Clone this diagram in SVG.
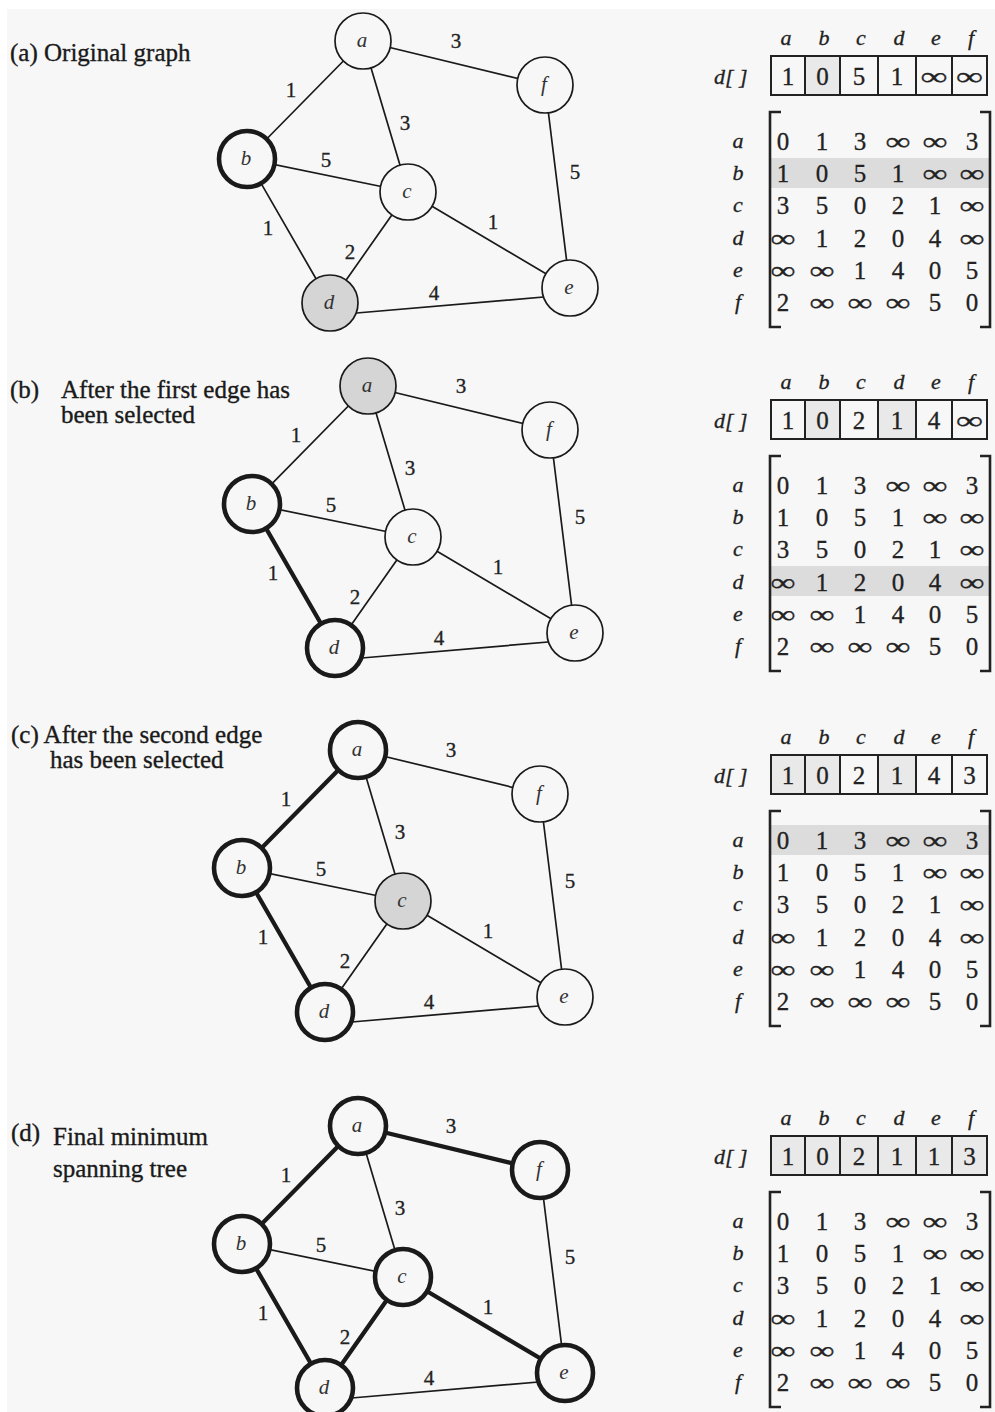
<svg xmlns="http://www.w3.org/2000/svg" width="995" height="1412" viewBox="0 0 995 1412">
<style>
.bg{fill:#f7f7f7}
.edges line{stroke:#1a1a1a;stroke-width:1.7;stroke-linecap:round}
.edges line.t{stroke-width:4.3}
.el{font-family:"Liberation Serif","Times New Roman",serif;font-size:21px;fill:#222;stroke:#222;stroke-width:0.3;text-anchor:middle}
.node circle{fill:#f7f7f7;stroke:#1a1a1a;stroke-width:1.7}
.node.t circle{stroke-width:4.6}
.node.g circle{fill:#d5d5d5}
.node text{font-family:"Liberation Serif","Times New Roman",serif;font-style:italic;font-size:21px;fill:#333;text-anchor:middle}
.lbl{font-family:"Liberation Serif","Times New Roman",serif;font-size:25px;fill:#1a1a1a;stroke:#1a1a1a;stroke-width:0.35}
.hd{font-family:"Liberation Serif","Times New Roman",serif;font-style:italic;font-size:22px;fill:#222;stroke:#222;stroke-width:0.3;text-anchor:middle}
.dl{font-family:"Liberation Serif","Times New Roman",serif;font-style:italic;font-size:22px;fill:#222;stroke:#222;stroke-width:0.3}
.mv{font-family:"Liberation Serif","Times New Roman",serif;font-size:25px;fill:#222;stroke:#222;stroke-width:0.3;text-anchor:middle}
.box{fill:none;stroke:#222;stroke-width:2}
.br{fill:none;stroke:#222;stroke-width:2.6}
.band{fill:#dcdcdc}
.sh{fill:#e9e9e9}
</style>
<rect class="bg" x="0" y="0" width="995" height="1412"/>
<rect x="0" y="0" width="995" height="9" fill="#ffffff"/>
<rect x="0" y="0" width="7" height="1412" fill="#ffffff"/>

<!-- Panel labels -->
<text class="lbl" x="10" y="61">(a) Original graph</text>
<text class="lbl" x="10" y="398">(b)</text>
<text class="lbl" x="61" y="398">After the first edge has</text>
<text class="lbl" x="61" y="423">been selected</text>
<text class="lbl" x="11" y="743">(c) After the second edge</text>
<text class="lbl" x="50" y="768">has been selected</text>
<text class="lbl" x="11" y="1141">(d)</text>
<text class="lbl" x="53" y="1145">Final minimum</text>
<text class="lbl" x="53" y="1177">spanning tree</text>

<!-- ===== Panel (a) graph ===== -->
<g id="graph-a">
<g id="a-connectors" class="edges">
<line x1="363" y1="41" x2="247" y2="159"/>
<line x1="363" y1="41" x2="545" y2="85"/>
<line x1="363" y1="41" x2="408" y2="192"/>
<line x1="247" y1="159" x2="408" y2="192"/>
<line x1="247" y1="159" x2="330" y2="303"/>
<line x1="408" y1="192" x2="330" y2="303"/>
<line x1="408" y1="192" x2="570" y2="288"/>
<line x1="345" y1="314" x2="555" y2="296"/>
<line x1="545" y1="85" x2="570" y2="288"/>
<text class="el" x="456" y="48">3</text>
<text class="el" x="291" y="97">1</text>
<text class="el" x="405" y="130">3</text>
<text class="el" x="326" y="167">5</text>
<text class="el" x="575" y="179">5</text>
<text class="el" x="268" y="235">1</text>
<text class="el" x="493" y="229">1</text>
<text class="el" x="350" y="259">2</text>
<text class="el" x="434" y="300">4</text>
</g>
<g id="a-node-a" class="node"><circle cx="363" cy="41" r="28"/><text x="362" y="47">a</text></g>
<g id="a-node-b" class="node t"><circle cx="247" cy="159" r="28"/><text x="246" y="165">b</text></g>
<g id="a-node-c" class="node"><circle cx="408" cy="192" r="28"/><text x="407" y="198">c</text></g>
<g id="a-node-d" class="node g"><circle cx="330" cy="303" r="28"/><text x="329" y="309">d</text></g>
<g id="a-node-e" class="node"><circle cx="570" cy="288" r="28"/><text x="569" y="294">e</text></g>
<g id="a-node-f" class="node"><circle cx="545" cy="85" r="28"/><text x="544" y="91">f</text></g>
</g>

<!-- ===== Panel (b) graph ===== -->
<g id="graph-b" transform="translate(5,345)">
<g id="b-connectors" class="edges">
<line x1="363" y1="41" x2="247" y2="159"/>
<line x1="363" y1="41" x2="545" y2="85"/>
<line x1="363" y1="41" x2="408" y2="192"/>
<line x1="247" y1="159" x2="408" y2="192"/>
<line class="t" x1="247" y1="159" x2="330" y2="303"/>
<line x1="408" y1="192" x2="330" y2="303"/>
<line x1="408" y1="192" x2="570" y2="288"/>
<line x1="345" y1="314" x2="555" y2="296"/>
<line x1="545" y1="85" x2="570" y2="288"/>
<text class="el" x="456" y="48">3</text>
<text class="el" x="291" y="97">1</text>
<text class="el" x="405" y="130">3</text>
<text class="el" x="326" y="167">5</text>
<text class="el" x="575" y="179">5</text>
<text class="el" x="268" y="235">1</text>
<text class="el" x="493" y="229">1</text>
<text class="el" x="350" y="259">2</text>
<text class="el" x="434" y="300">4</text>
</g>
<g id="b-node-a" class="node g"><circle cx="363" cy="41" r="28"/><text x="362" y="47">a</text></g>
<g id="b-node-b" class="node t"><circle cx="247" cy="159" r="28"/><text x="246" y="165">b</text></g>
<g id="b-node-c" class="node"><circle cx="408" cy="192" r="28"/><text x="407" y="198">c</text></g>
<g id="b-node-d" class="node t"><circle cx="330" cy="303" r="28"/><text x="329" y="309">d</text></g>
<g id="b-node-e" class="node"><circle cx="570" cy="288" r="28"/><text x="569" y="294">e</text></g>
<g id="b-node-f" class="node"><circle cx="545" cy="85" r="28"/><text x="544" y="91">f</text></g>
</g>

<!-- ===== Panel (c) graph ===== -->
<g id="graph-c" transform="translate(-5,709)">
<g id="c-connectors" class="edges">
<line class="t" x1="363" y1="41" x2="247" y2="159"/>
<line x1="363" y1="41" x2="545" y2="85"/>
<line x1="363" y1="41" x2="408" y2="192"/>
<line x1="247" y1="159" x2="408" y2="192"/>
<line class="t" x1="247" y1="159" x2="330" y2="303"/>
<line x1="408" y1="192" x2="330" y2="303"/>
<line x1="408" y1="192" x2="570" y2="288"/>
<line x1="345" y1="314" x2="555" y2="296"/>
<line x1="545" y1="85" x2="570" y2="288"/>
<text class="el" x="456" y="48">3</text>
<text class="el" x="291" y="97">1</text>
<text class="el" x="405" y="130">3</text>
<text class="el" x="326" y="167">5</text>
<text class="el" x="575" y="179">5</text>
<text class="el" x="268" y="235">1</text>
<text class="el" x="493" y="229">1</text>
<text class="el" x="350" y="259">2</text>
<text class="el" x="434" y="300">4</text>
</g>
<g id="c-node-a" class="node t"><circle cx="363" cy="41" r="28"/><text x="362" y="47">a</text></g>
<g id="c-node-b" class="node t"><circle cx="247" cy="159" r="28"/><text x="246" y="165">b</text></g>
<g id="c-node-c" class="node g"><circle cx="408" cy="192" r="28"/><text x="407" y="198">c</text></g>
<g id="c-node-d" class="node t"><circle cx="330" cy="303" r="28"/><text x="329" y="309">d</text></g>
<g id="c-node-e" class="node"><circle cx="570" cy="288" r="28"/><text x="569" y="294">e</text></g>
<g id="c-node-f" class="node"><circle cx="545" cy="85" r="28"/><text x="544" y="91">f</text></g>
</g>

<!-- ===== Panel (d) graph ===== -->
<g id="graph-d" transform="translate(-5,1085)">
<g id="d-connectors" class="edges">
<line class="t" x1="363" y1="41" x2="247" y2="159"/>
<line class="t" x1="363" y1="41" x2="545" y2="85"/>
<line x1="363" y1="41" x2="408" y2="192"/>
<line x1="247" y1="159" x2="408" y2="192"/>
<line class="t" x1="247" y1="159" x2="330" y2="303"/>
<line class="t" x1="408" y1="192" x2="330" y2="303"/>
<line class="t" x1="408" y1="192" x2="570" y2="288"/>
<line x1="345" y1="314" x2="555" y2="296"/>
<line x1="545" y1="85" x2="570" y2="288"/>
<text class="el" x="456" y="48">3</text>
<text class="el" x="291" y="97">1</text>
<text class="el" x="405" y="130">3</text>
<text class="el" x="326" y="167">5</text>
<text class="el" x="575" y="179">5</text>
<text class="el" x="268" y="235">1</text>
<text class="el" x="493" y="229">1</text>
<text class="el" x="350" y="259">2</text>
<text class="el" x="434" y="300">4</text>
</g>
<g id="d-node-a" class="node t"><circle cx="363" cy="41" r="28"/><text x="362" y="47">a</text></g>
<g id="d-node-b" class="node t"><circle cx="247" cy="159" r="28"/><text x="246" y="165">b</text></g>
<g id="d-node-c" class="node t"><circle cx="408" cy="192" r="28"/><text x="407" y="198">c</text></g>
<g id="d-node-d" class="node t"><circle cx="330" cy="303" r="28"/><text x="329" y="309">d</text></g>
<g id="d-node-e" class="node t"><circle cx="570" cy="288" r="28"/><text x="569" y="294">e</text></g>
<g id="d-node-f" class="node t"><circle cx="545" cy="85" r="28"/><text x="544" y="91">f</text></g>
</g>

<!-- ===== Matrix (a) ===== -->
<g id="matrix-a">
<rect class="band" x="770" y="158" width="220" height="30"/>
<rect class="sh" x="805" y="56" width="35" height="39"/>
<text class="hd" x="786" y="45">a</text><text class="hd" x="824" y="45">b</text><text class="hd" x="861" y="45">c</text><text class="hd" x="899" y="45">d</text><text class="hd" x="936" y="45">e</text><text class="hd" x="971" y="45">f</text>
<text class="dl" x="714" y="84">d[ ]</text>
<rect class="box" x="771" y="56" width="216" height="39"/>
<path class="box" d="M805,56V95M840,56V95M878,56V95M916,56V95M952,56V95"/>
<text class="mv" x="788" y="85">1</text><text class="mv" x="822.5" y="85">0</text><text class="mv" x="859" y="85">5</text><text class="mv" x="897" y="85">1</text><text class="mv" x="934" y="85" textLength="27" lengthAdjust="spacingAndGlyphs">∞</text><text class="mv" x="969.5" y="85" textLength="27" lengthAdjust="spacingAndGlyphs">∞</text>
<path class="br" d="M781,112H770V327H781M980,112H990V327H980"/>
<text class="hd" x="738" y="148">a</text><text class="hd" x="738" y="180">b</text><text class="hd" x="738" y="212">c</text><text class="hd" x="738" y="245">d</text><text class="hd" x="738" y="277">e</text><text class="hd" x="738" y="309">f</text>
<text class="mv" x="783" y="150">0</text><text class="mv" x="822" y="150">1</text><text class="mv" x="860" y="150">3</text><text class="mv" x="898" y="150" textLength="25" lengthAdjust="spacingAndGlyphs">∞</text><text class="mv" x="935" y="150" textLength="25" lengthAdjust="spacingAndGlyphs">∞</text><text class="mv" x="972" y="150">3</text>
<text class="mv" x="783" y="182">1</text><text class="mv" x="822" y="182">0</text><text class="mv" x="860" y="182">5</text><text class="mv" x="898" y="182">1</text><text class="mv" x="935" y="182" textLength="25" lengthAdjust="spacingAndGlyphs">∞</text><text class="mv" x="972" y="182" textLength="25" lengthAdjust="spacingAndGlyphs">∞</text>
<text class="mv" x="783" y="214">3</text><text class="mv" x="822" y="214">5</text><text class="mv" x="860" y="214">0</text><text class="mv" x="898" y="214">2</text><text class="mv" x="935" y="214">1</text><text class="mv" x="972" y="214" textLength="25" lengthAdjust="spacingAndGlyphs">∞</text>
<text class="mv" x="783" y="247" textLength="25" lengthAdjust="spacingAndGlyphs">∞</text><text class="mv" x="822" y="247">1</text><text class="mv" x="860" y="247">2</text><text class="mv" x="898" y="247">0</text><text class="mv" x="935" y="247">4</text><text class="mv" x="972" y="247" textLength="25" lengthAdjust="spacingAndGlyphs">∞</text>
<text class="mv" x="783" y="279" textLength="25" lengthAdjust="spacingAndGlyphs">∞</text><text class="mv" x="822" y="279" textLength="25" lengthAdjust="spacingAndGlyphs">∞</text><text class="mv" x="860" y="279">1</text><text class="mv" x="898" y="279">4</text><text class="mv" x="935" y="279">0</text><text class="mv" x="972" y="279">5</text>
<text class="mv" x="783" y="311">2</text><text class="mv" x="822" y="311" textLength="25" lengthAdjust="spacingAndGlyphs">∞</text><text class="mv" x="860" y="311" textLength="25" lengthAdjust="spacingAndGlyphs">∞</text><text class="mv" x="898" y="311" textLength="25" lengthAdjust="spacingAndGlyphs">∞</text><text class="mv" x="935" y="311">5</text><text class="mv" x="972" y="311">0</text>
</g>

<!-- ===== Matrix (b) ===== -->
<g id="matrix-b" transform="translate(0,344)">
<rect class="band" x="770" y="222" width="220" height="30"/>
<rect class="sh" x="805" y="56" width="35" height="39"/>
<rect class="sh" x="878" y="56" width="38" height="39"/>
<text class="hd" x="786" y="45">a</text><text class="hd" x="824" y="45">b</text><text class="hd" x="861" y="45">c</text><text class="hd" x="899" y="45">d</text><text class="hd" x="936" y="45">e</text><text class="hd" x="971" y="45">f</text>
<text class="dl" x="714" y="84">d[ ]</text>
<rect class="box" x="771" y="56" width="216" height="39"/>
<path class="box" d="M805,56V95M840,56V95M878,56V95M916,56V95M952,56V95"/>
<text class="mv" x="788" y="85">1</text><text class="mv" x="822.5" y="85">0</text><text class="mv" x="859" y="85">2</text><text class="mv" x="897" y="85">1</text><text class="mv" x="934" y="85">4</text><text class="mv" x="969.5" y="85" textLength="27" lengthAdjust="spacingAndGlyphs">∞</text>
<path class="br" d="M781,112H770V327H781M980,112H990V327H980"/>
<text class="hd" x="738" y="148">a</text><text class="hd" x="738" y="180">b</text><text class="hd" x="738" y="212">c</text><text class="hd" x="738" y="245">d</text><text class="hd" x="738" y="277">e</text><text class="hd" x="738" y="309">f</text>
<text class="mv" x="783" y="150">0</text><text class="mv" x="822" y="150">1</text><text class="mv" x="860" y="150">3</text><text class="mv" x="898" y="150" textLength="25" lengthAdjust="spacingAndGlyphs">∞</text><text class="mv" x="935" y="150" textLength="25" lengthAdjust="spacingAndGlyphs">∞</text><text class="mv" x="972" y="150">3</text>
<text class="mv" x="783" y="182">1</text><text class="mv" x="822" y="182">0</text><text class="mv" x="860" y="182">5</text><text class="mv" x="898" y="182">1</text><text class="mv" x="935" y="182" textLength="25" lengthAdjust="spacingAndGlyphs">∞</text><text class="mv" x="972" y="182" textLength="25" lengthAdjust="spacingAndGlyphs">∞</text>
<text class="mv" x="783" y="214">3</text><text class="mv" x="822" y="214">5</text><text class="mv" x="860" y="214">0</text><text class="mv" x="898" y="214">2</text><text class="mv" x="935" y="214">1</text><text class="mv" x="972" y="214" textLength="25" lengthAdjust="spacingAndGlyphs">∞</text>
<text class="mv" x="783" y="247" textLength="25" lengthAdjust="spacingAndGlyphs">∞</text><text class="mv" x="822" y="247">1</text><text class="mv" x="860" y="247">2</text><text class="mv" x="898" y="247">0</text><text class="mv" x="935" y="247">4</text><text class="mv" x="972" y="247" textLength="25" lengthAdjust="spacingAndGlyphs">∞</text>
<text class="mv" x="783" y="279" textLength="25" lengthAdjust="spacingAndGlyphs">∞</text><text class="mv" x="822" y="279" textLength="25" lengthAdjust="spacingAndGlyphs">∞</text><text class="mv" x="860" y="279">1</text><text class="mv" x="898" y="279">4</text><text class="mv" x="935" y="279">0</text><text class="mv" x="972" y="279">5</text>
<text class="mv" x="783" y="311">2</text><text class="mv" x="822" y="311" textLength="25" lengthAdjust="spacingAndGlyphs">∞</text><text class="mv" x="860" y="311" textLength="25" lengthAdjust="spacingAndGlyphs">∞</text><text class="mv" x="898" y="311" textLength="25" lengthAdjust="spacingAndGlyphs">∞</text><text class="mv" x="935" y="311">5</text><text class="mv" x="972" y="311">0</text>
</g>

<!-- ===== Matrix (c) ===== -->
<g id="matrix-c" transform="translate(0,699)">
<rect class="band" x="770" y="126" width="220" height="30"/>
<rect class="sh" x="771" y="56" width="34" height="39"/>
<rect class="sh" x="805" y="56" width="35" height="39"/>
<rect class="sh" x="878" y="56" width="38" height="39"/>
<text class="hd" x="786" y="45">a</text><text class="hd" x="824" y="45">b</text><text class="hd" x="861" y="45">c</text><text class="hd" x="899" y="45">d</text><text class="hd" x="936" y="45">e</text><text class="hd" x="971" y="45">f</text>
<text class="dl" x="714" y="84">d[ ]</text>
<rect class="box" x="771" y="56" width="216" height="39"/>
<path class="box" d="M805,56V95M840,56V95M878,56V95M916,56V95M952,56V95"/>
<text class="mv" x="788" y="85">1</text><text class="mv" x="822.5" y="85">0</text><text class="mv" x="859" y="85">2</text><text class="mv" x="897" y="85">1</text><text class="mv" x="934" y="85">4</text><text class="mv" x="969.5" y="85">3</text>
<path class="br" d="M781,112H770V327H781M980,112H990V327H980"/>
<text class="hd" x="738" y="148">a</text><text class="hd" x="738" y="180">b</text><text class="hd" x="738" y="212">c</text><text class="hd" x="738" y="245">d</text><text class="hd" x="738" y="277">e</text><text class="hd" x="738" y="309">f</text>
<text class="mv" x="783" y="150">0</text><text class="mv" x="822" y="150">1</text><text class="mv" x="860" y="150">3</text><text class="mv" x="898" y="150" textLength="25" lengthAdjust="spacingAndGlyphs">∞</text><text class="mv" x="935" y="150" textLength="25" lengthAdjust="spacingAndGlyphs">∞</text><text class="mv" x="972" y="150">3</text>
<text class="mv" x="783" y="182">1</text><text class="mv" x="822" y="182">0</text><text class="mv" x="860" y="182">5</text><text class="mv" x="898" y="182">1</text><text class="mv" x="935" y="182" textLength="25" lengthAdjust="spacingAndGlyphs">∞</text><text class="mv" x="972" y="182" textLength="25" lengthAdjust="spacingAndGlyphs">∞</text>
<text class="mv" x="783" y="214">3</text><text class="mv" x="822" y="214">5</text><text class="mv" x="860" y="214">0</text><text class="mv" x="898" y="214">2</text><text class="mv" x="935" y="214">1</text><text class="mv" x="972" y="214" textLength="25" lengthAdjust="spacingAndGlyphs">∞</text>
<text class="mv" x="783" y="247" textLength="25" lengthAdjust="spacingAndGlyphs">∞</text><text class="mv" x="822" y="247">1</text><text class="mv" x="860" y="247">2</text><text class="mv" x="898" y="247">0</text><text class="mv" x="935" y="247">4</text><text class="mv" x="972" y="247" textLength="25" lengthAdjust="spacingAndGlyphs">∞</text>
<text class="mv" x="783" y="279" textLength="25" lengthAdjust="spacingAndGlyphs">∞</text><text class="mv" x="822" y="279" textLength="25" lengthAdjust="spacingAndGlyphs">∞</text><text class="mv" x="860" y="279">1</text><text class="mv" x="898" y="279">4</text><text class="mv" x="935" y="279">0</text><text class="mv" x="972" y="279">5</text>
<text class="mv" x="783" y="311">2</text><text class="mv" x="822" y="311" textLength="25" lengthAdjust="spacingAndGlyphs">∞</text><text class="mv" x="860" y="311" textLength="25" lengthAdjust="spacingAndGlyphs">∞</text><text class="mv" x="898" y="311" textLength="25" lengthAdjust="spacingAndGlyphs">∞</text><text class="mv" x="935" y="311">5</text><text class="mv" x="972" y="311">0</text>
</g>

<!-- ===== Matrix (d) ===== -->
<g id="matrix-d" transform="translate(0,1080)">
<rect class="sh" x="771" y="56" width="216" height="39"/>
<text class="hd" x="786" y="45">a</text><text class="hd" x="824" y="45">b</text><text class="hd" x="861" y="45">c</text><text class="hd" x="899" y="45">d</text><text class="hd" x="936" y="45">e</text><text class="hd" x="971" y="45">f</text>
<text class="dl" x="714" y="84">d[ ]</text>
<rect class="box" x="771" y="56" width="216" height="39"/>
<path class="box" d="M805,56V95M840,56V95M878,56V95M916,56V95M952,56V95"/>
<text class="mv" x="788" y="85">1</text><text class="mv" x="822.5" y="85">0</text><text class="mv" x="859" y="85">2</text><text class="mv" x="897" y="85">1</text><text class="mv" x="934" y="85">1</text><text class="mv" x="969.5" y="85">3</text>
<path class="br" d="M781,112H770V327H781M980,112H990V327H980"/>
<text class="hd" x="738" y="148">a</text><text class="hd" x="738" y="180">b</text><text class="hd" x="738" y="212">c</text><text class="hd" x="738" y="245">d</text><text class="hd" x="738" y="277">e</text><text class="hd" x="738" y="309">f</text>
<text class="mv" x="783" y="150">0</text><text class="mv" x="822" y="150">1</text><text class="mv" x="860" y="150">3</text><text class="mv" x="898" y="150" textLength="25" lengthAdjust="spacingAndGlyphs">∞</text><text class="mv" x="935" y="150" textLength="25" lengthAdjust="spacingAndGlyphs">∞</text><text class="mv" x="972" y="150">3</text>
<text class="mv" x="783" y="182">1</text><text class="mv" x="822" y="182">0</text><text class="mv" x="860" y="182">5</text><text class="mv" x="898" y="182">1</text><text class="mv" x="935" y="182" textLength="25" lengthAdjust="spacingAndGlyphs">∞</text><text class="mv" x="972" y="182" textLength="25" lengthAdjust="spacingAndGlyphs">∞</text>
<text class="mv" x="783" y="214">3</text><text class="mv" x="822" y="214">5</text><text class="mv" x="860" y="214">0</text><text class="mv" x="898" y="214">2</text><text class="mv" x="935" y="214">1</text><text class="mv" x="972" y="214" textLength="25" lengthAdjust="spacingAndGlyphs">∞</text>
<text class="mv" x="783" y="247" textLength="25" lengthAdjust="spacingAndGlyphs">∞</text><text class="mv" x="822" y="247">1</text><text class="mv" x="860" y="247">2</text><text class="mv" x="898" y="247">0</text><text class="mv" x="935" y="247">4</text><text class="mv" x="972" y="247" textLength="25" lengthAdjust="spacingAndGlyphs">∞</text>
<text class="mv" x="783" y="279" textLength="25" lengthAdjust="spacingAndGlyphs">∞</text><text class="mv" x="822" y="279" textLength="25" lengthAdjust="spacingAndGlyphs">∞</text><text class="mv" x="860" y="279">1</text><text class="mv" x="898" y="279">4</text><text class="mv" x="935" y="279">0</text><text class="mv" x="972" y="279">5</text>
<text class="mv" x="783" y="311">2</text><text class="mv" x="822" y="311" textLength="25" lengthAdjust="spacingAndGlyphs">∞</text><text class="mv" x="860" y="311" textLength="25" lengthAdjust="spacingAndGlyphs">∞</text><text class="mv" x="898" y="311" textLength="25" lengthAdjust="spacingAndGlyphs">∞</text><text class="mv" x="935" y="311">5</text><text class="mv" x="972" y="311">0</text>
</g>
</svg>
